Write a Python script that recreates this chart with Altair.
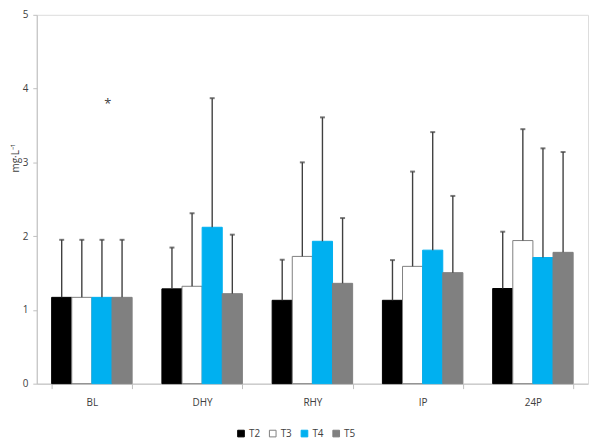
import altair as alt
import pandas as pd

categories = ["BL", "DHY", "RHY", "IP", "24P"]
series = ["T2", "T3", "T4", "T5"]

t2_mean = [1.17, 1.285, 1.13, 1.13, 1.29]
t2_upper = [1.95, 1.845, 1.68, 1.675, 2.06]
t3_mean = [1.17, 1.32, 1.725, 1.59, 1.94]
t3_upper = [1.95, 2.31, 3.0, 2.875, 3.45]
t4_mean = [1.17, 2.12, 1.93, 1.81, 1.71]
t4_upper = [1.95, 3.87, 3.61, 3.41, 3.19]
t5_mean = [1.17, 1.22, 1.36, 1.505, 1.78]
t5_upper = [1.95, 2.02, 2.245, 2.545, 3.14]

fill_colors = ["#000000", "#ffffff", "#00b0f0", "#808080"]
stroke_colors = ["#000000", "#7f7f7f", "#00b0f0", "#808080"]

star_cat = ["BL"]
star_series = ["T4"]
star_value = [3.83]
star_text = ["*"]

rows = []
for s, means, uppers in zip(series, [t2_mean, t3_mean, t4_mean, t5_mean],
                            [t2_upper, t3_upper, t4_upper, t5_upper]):
    for c, m, u in zip(categories, means, uppers):
        rows.append({"cat": c, "series": s, "mean": m, "upper": u})
df = pd.DataFrame(rows)

star_df = pd.DataFrame({"cat": star_cat, "series": star_series,
                        "value": star_value, "label": star_text})

grid_col = "#bfbfbf"
text_col = "#404040"

x_enc = alt.X("cat:N", sort=categories,
              scale=alt.Scale(paddingInner=0.27, paddingOuter=0.135),
              axis=alt.Axis(title=None, labelAngle=0, tickBand="extent",
                            domainColor=grid_col, tickColor=grid_col,
                            tickSize=5, labelPadding=9, labelFontSize=10,
                            labelColor=text_col))
xo_enc = alt.XOffset("series:N", sort=series,
                     scale=alt.Scale(paddingInner=0, paddingOuter=0))
y_scale = alt.Scale(domain=[0, 5], nice=False)

legend = alt.Legend(title=None, orient="none", legendX=201, legendY=417,
                    direction="horizontal", symbolType="square",
                    symbolSize=45, labelFontSize=10, labelColor=text_col,
                    columnPadding=6, labelOffset=3, symbolStrokeWidth=1)

bars = alt.Chart(df).mark_bar(strokeWidth=1).encode(
    x=x_enc,
    xOffset=xo_enc,
    y=alt.Y("mean:Q", scale=y_scale,
            axis=alt.Axis(values=[0, 1, 2, 3, 4, 5], format="d",
                          title="mg·L⁻¹",
                          titleAngle=270, titleX=-16, titleY=144,
                          titleFontSize=10, titleFontWeight="normal",
                          titleColor=text_col, grid=False,
                          domainColor=grid_col, tickColor=grid_col,
                          tickSize=4, labelPadding=5, labelFontSize=10,
                          labelColor=text_col)),
    fill=alt.Fill("series:N", sort=series,
                  scale=alt.Scale(domain=series, range=fill_colors),
                  legend=legend),
    stroke=alt.Stroke("series:N", sort=series,
                      scale=alt.Scale(domain=series, range=stroke_colors),
                      legend=legend),
)

err = alt.Chart(df).mark_rule(color="#404040", strokeWidth=1.4).encode(
    x=x_enc, xOffset=xo_enc,
    y=alt.Y("mean:Q", scale=y_scale), y2="upper:Q")

caps = alt.Chart(df).mark_tick(color="#404040", thickness=2, size=5).encode(
    x=x_enc, xOffset=xo_enc, y=alt.Y("upper:Q", scale=y_scale))

star = alt.Chart(star_df).mark_text(fontSize=13, color="#404040", dx=6,
                                    dy=3, baseline="middle").encode(
    x=x_enc, xOffset=xo_enc, y=alt.Y("value:Q", scale=y_scale),
    text="label:N")

chart = alt.layer(bars, err, caps, star).properties(
    width=556, height=372,
    autosize=alt.AutoSizeParams(type="none"),
    padding={"left": 29, "top": 5, "right": 4, "bottom": 62},
).configure_view(stroke=None).configure(font="Open Sans")

chart.save("out.html", embed_options={"renderer": "svg", "actions": False})
